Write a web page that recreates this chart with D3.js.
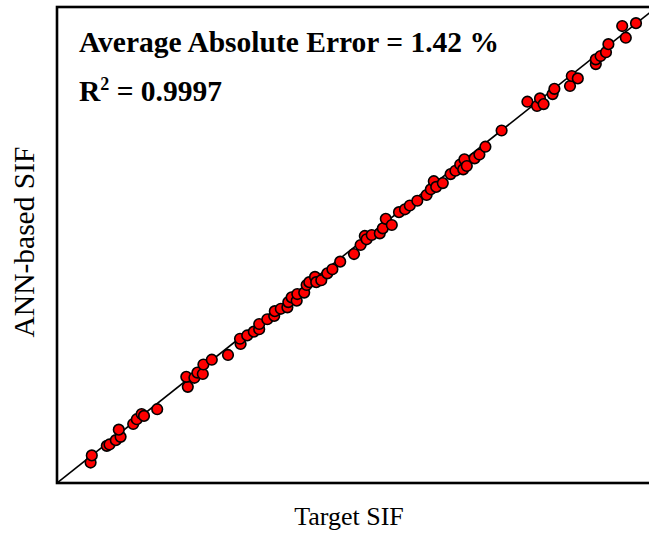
<!DOCTYPE html>
<html>
<head>
<meta charset="utf-8">
<script src="https://cdn.jsdelivr.net/npm/d3@7"></script>
<style>
  body { margin: 0; background: #fff; }
  svg { display: block; }
</style>
</head>
<body>
<svg id="chart" width="649" height="535"></svg>
<script>
// normalized SIF values (target vs ANN)
const targetSIF = [
  0.056, 0.058, 0.083, 0.0875, 0.098, 0.106, 0.103, 0.127, 0.133, 0.141,
  0.145, 0.167, 0.218, 0.2155, 0.229, 0.234, 0.243, 0.244, 0.258, 0.285,
  0.306, 0.305, 0.317, 0.328, 0.337, 0.337, 0.3505, 0.362, 0.363, 0.373,
  0.384, 0.3855, 0.391, 0.3995, 0.4005, 0.412, 0.416, 0.4205, 0.430, 0.432,
  0.4405, 0.4505, 0.459, 0.472, 0.495, 0.506, 0.513, 0.516, 0.5245, 0.538,
  0.543, 0.548, 0.558, 0.570, 0.580, 0.588, 0.6005, 0.616, 0.623, 0.628,
  0.632, 0.643, 0.656, 0.664, 0.672, 0.677, 0.679, 0.683, 0.696, 0.704,
  0.714, 0.741, 0.784, 0.800, 0.805, 0.811, 0.826, 0.829, 0.855, 0.858,
  0.868, 0.898, 0.898, 0.906, 0.915, 0.919, 0.948, 0.942, 0.965
];
const annSIF = [
  0.043, 0.058, 0.078, 0.081, 0.090, 0.097, 0.112, 0.124, 0.134, 0.145,
  0.141, 0.155, 0.202, 0.223, 0.221, 0.232, 0.229, 0.249, 0.259, 0.269,
  0.292, 0.303, 0.310, 0.318, 0.323, 0.334, 0.344, 0.351, 0.361, 0.366,
  0.369, 0.380, 0.390, 0.383, 0.397, 0.400, 0.416, 0.422, 0.433, 0.422,
  0.426, 0.4405, 0.449, 0.465, 0.481, 0.500, 0.519, 0.512, 0.521, 0.5245,
  0.535, 0.555, 0.542, 0.569, 0.575, 0.583, 0.593, 0.605, 0.617, 0.634,
  0.622, 0.630, 0.649, 0.656, 0.669, 0.659, 0.680, 0.666, 0.682, 0.690,
  0.7065, 0.7405, 0.801, 0.792, 0.808, 0.796, 0.817, 0.828, 0.834, 0.855,
  0.850, 0.880, 0.890, 0.897, 0.905, 0.922, 0.9355, 0.960, 0.966
];
const domain = [0, 1];
const errorText = 'Average Absolute Error = 1.42 %';
const r2Value = '0.9997';

const plotLeft = 57, plotTop = 7, plotW = 600, plotH = 476;

const svg = d3.select('#chart');

const x = d3.scaleLinear().domain(domain).range([plotLeft, plotLeft + plotW]);
const y = d3.scaleLinear().domain(domain).range([plotTop + plotH, plotTop]);

svg.append('defs').append('clipPath')
  .attr('id', 'plot-clip')
  .append('rect')
  .attr('x', plotLeft)
  .attr('y', plotTop)
  .attr('width', plotW)
  .attr('height', plotH);

const g = svg.append('g').attr('clip-path', 'url(#plot-clip)');

// y = x reference line
g.append('line')
  .attr('x1', x(domain[0]))
  .attr('y1', y(domain[0]))
  .attr('x2', x(domain[1]))
  .attr('y2', y(domain[1]))
  .attr('stroke', '#000')
  .attr('stroke-width', 1.6);

const points = targetSIF.map((t, i) => ({t: t, a: annSIF[i]}));

g.selectAll('circle')
  .data(points)
  .join('circle')
  .attr('cx', d => x(d.t))
  .attr('cy', d => y(d.a))
  .attr('r', 5.3)
  .attr('fill', '#ff0000')
  .attr('stroke', '#000')
  .attr('stroke-width', 1.6);

// frame
svg.append('rect')
  .attr('x', plotLeft)
  .attr('y', plotTop)
  .attr('width', plotW)
  .attr('height', plotH)
  .attr('fill', 'none')
  .attr('stroke', '#000')
  .attr('stroke-width', 2.6);

const font = '"Liberation Serif", "Times New Roman", serif';

svg.append('text')
  .attr('x', 79)
  .attr('y', 52)
  .style('font-family', font)
  .style('font-size', '29.5px')
  .style('font-weight', 'bold')
  .text(errorText);

const r2 = svg.append('text')
  .attr('x', 79)
  .attr('y', 101)
  .style('font-family', font)
  .style('font-size', '29.5px')
  .style('font-weight', 'bold');
r2.append('tspan').text('R');
r2.append('tspan').attr('dy', -11).style('font-size', '18px').text('2');
r2.append('tspan').attr('dy', 11).text(' = ' + r2Value);

svg.append('text')
  .attr('x', 349)
  .attr('y', 525)
  .attr('text-anchor', 'middle')
  .style('font-family', font)
  .style('font-size', '26px')
  .text('Target SIF');

svg.append('text')
  .attr('transform', 'translate(34,242) rotate(-90)')
  .attr('text-anchor', 'middle')
  .style('font-family', font)
  .style('font-size', '29.5px')
  .text('ANN-based SIF');
</script>
</body>
</html>
